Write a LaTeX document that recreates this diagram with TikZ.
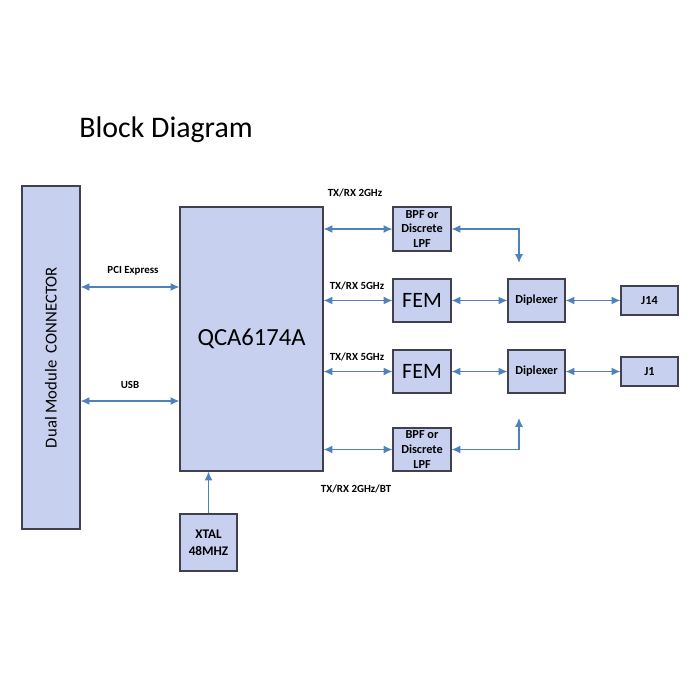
\documentclass[tikz,border=0pt]{standalone}
\usepackage{fontspec}
\setmainfont{Carlito}
\usepackage{xcolor}
\usetikzlibrary{arrows.meta, positioning, calc}
\definecolor{boxfill}{RGB}{200, 208, 240}
\definecolor{boxedge}{RGB}{64, 64, 80}
\definecolor{linkblue}{RGB}{79, 129, 189}

\tikzset{
    blk/.style={draw=boxedge, fill=boxfill, line width=0.7pt, inner sep=0pt, align=center},
    link/.style={linkblue, line width=0.7pt, {Latex[length=5pt,width=4.5pt]}-{Latex[length=5pt,width=4.5pt]}},
    onelink/.style={linkblue, line width=0.7pt, -{Latex[length=5pt,width=4.5pt]}},
    lbl/.style={font=\fontsize{6.2}{7.5}\selectfont\bfseries, inner sep=0pt},
    small/.style={font=\fontsize{7}{8.5}\selectfont\bfseries},
}

\begin{document}
\begin{tikzpicture}[x=0.02cm, y=-0.02cm]
        \useasboundingbox (0,0) rectangle (700,700);

        \node[anchor=west, inner sep=0pt, font=\fontsize{17}{19}\selectfont] (title) at (79,130) {Block Diagram};

        % blocchi principali
        \node[blk, minimum width=1.16cm, minimum height=6.86cm] (conn) at (51,357.5) {};
        \node[rotate=90, font=\fontsize{9.5}{11}\selectfont] (connlbl) at (conn.center) {Dual Module\ \ CONNECTOR};
        \node[blk, minimum width=2.86cm, minimum height=5.28cm, font=\fontsize{14}{16}\selectfont] (qca) at (251.5,339) {QCA6174A};
        \node[blk, small, minimum width=1.14cm, minimum height=1.14cm, font=\fontsize{7.5}{9.6}\selectfont\bfseries] (xtal) at (208.5,542.5) {XTAL\\48MHZ};

        % catena RF superiore
        \node[blk, small, minimum width=1.16cm, minimum height=0.88cm] (bpfa) at (422,229) {BPF or\\Discrete\\LPF};
        \node[blk, minimum width=1.16cm, minimum height=0.86cm, font=\fontsize{12.5}{14}\selectfont] (fema) at (422,300.5) {FEM};
        \node[blk, small, minimum width=1.14cm, minimum height=0.86cm] (dipa) at (536.5,300.5) {Diplexer};
        \node[blk, small, minimum width=1.14cm, minimum height=0.58cm] (jfourteen) at (649.5,300.5) {J14};

        % catena RF inferiore
        \node[blk, minimum width=1.16cm, minimum height=0.86cm, font=\fontsize{12.5}{14}\selectfont] (femb) at (422,371.5) {FEM};
        \node[blk, small, minimum width=1.14cm, minimum height=0.86cm] (dipb) at (536.5,371.5) {Diplexer};
        \node[blk, small, minimum width=1.14cm, minimum height=0.58cm] (jone) at (649.5,371.5) {J1};
        \node[blk, small, minimum width=1.16cm, minimum height=0.86cm] (bpfb) at (422,449.5) {BPF or\\Discrete\\LPF};

        \coordinate (dipina) at (519,263);
        \coordinate (dipinb) at (519,418);

        % collegamenti host
        \draw[link] (conn.east |- 0,287) -- (qca.west |- 0,287);
        \draw[link] (conn.east |- 0,401) -- (qca.west |- 0,401);
        \node[lbl] (pcilbl) at (133,271) {PCI Express};
        \node[lbl] (usblbl) at (130,385) {USB};
        \draw[onelink] (xtal.north) -- (xtal.north |- qca.south);

        % collegamenti RF
        \draw[link] (qca.east |- bpfa) -- (bpfa.west);
        \draw[link] (qca.east |- fema) -- (fema.west);
        \draw[link] (qca.east |- femb) -- (femb.west);
        \draw[link] (qca.east |- bpfb) -- (bpfb.west);
        \draw[link] (fema) -- (dipa);
        \draw[link] (dipa) -- (jfourteen);
        \draw[link] (femb) -- (dipb);
        \draw[link] (dipb) -- (jone);
        \draw[link] (bpfa.east) -| (dipina);
        \draw[link] (bpfb.east) -| (dipinb);

        \node[lbl] (lbla) at (355,193) {TX/RX 2GHz};
        \node[lbl] (lblb) at (357,286) {TX/RX 5GHz};
        \node[lbl] (lblc) at (357,357) {TX/RX 5GHz};
        \node[lbl] (lbld) at (356,489) {TX/RX 2GHz/BT};
\end{tikzpicture}
\end{document}
